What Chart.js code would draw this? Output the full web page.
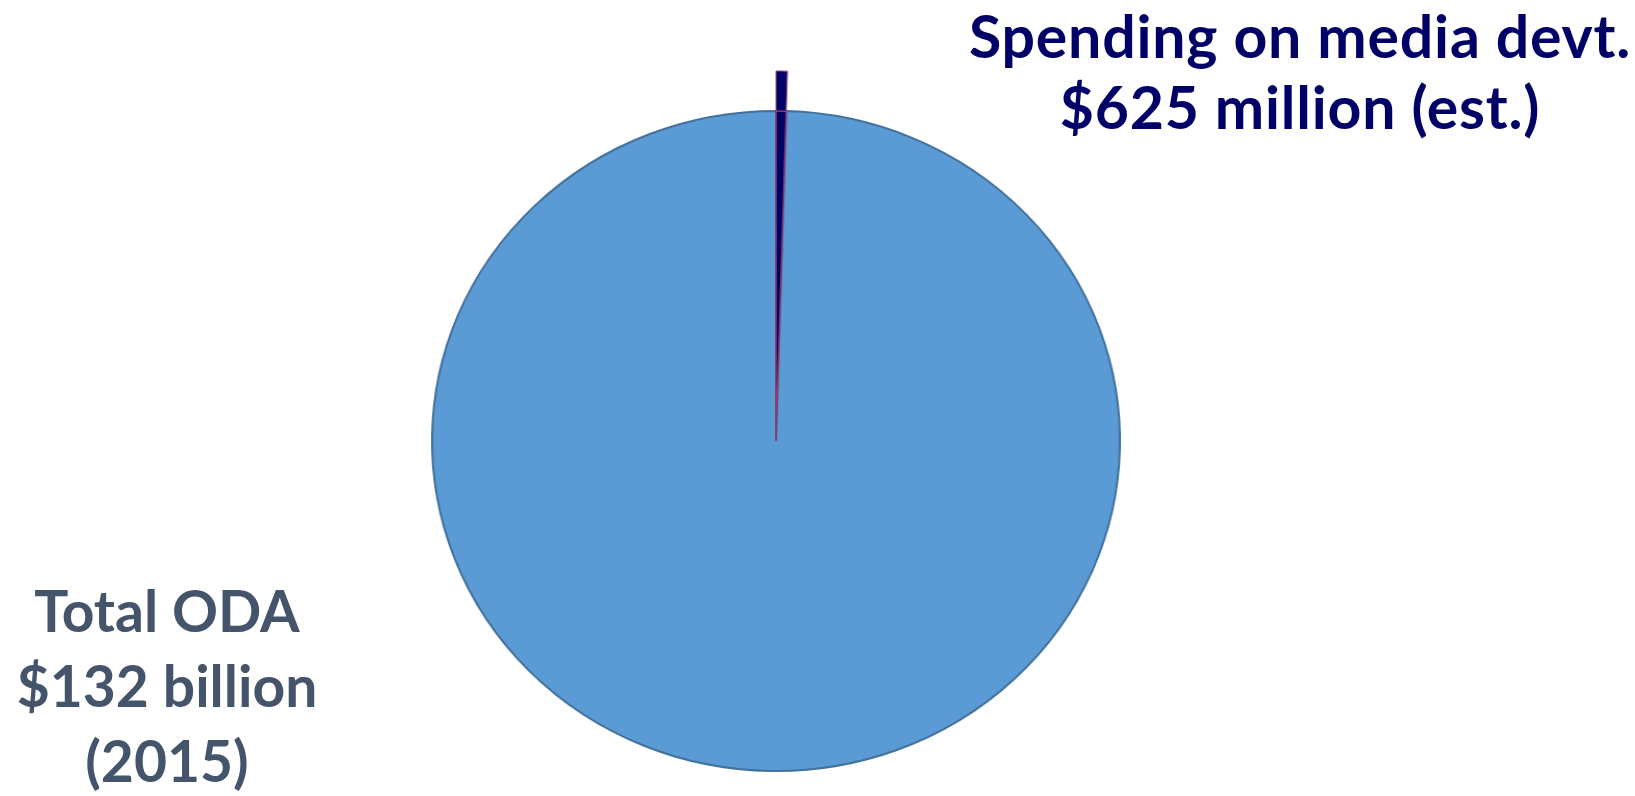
<!DOCTYPE html>
<html>
<head>
<meta charset="utf-8">
<script src="https://cdn.jsdelivr.net/npm/chart.js@4/dist/chart.umd.min.js"></script>
<style>
  html, body { margin: 0; padding: 0; background: #fff; overflow: hidden; }
  body { width: 1635px; height: 796px; position: relative; font-family: Lato, "Open Sans", sans-serif; font-weight: 700; }
  #pie-wrap { position: absolute; left: 396px; top: 61px; width: 760px; height: 760px; transform: scaleX(1.042); transform-origin: 50% 50%; }
  .label { position: absolute; text-align: center; white-space: nowrap; }
  #label-media { left: 950px; width: 700px; top: 0px; font-size: 59px; line-height: 71px; letter-spacing: 0.8px; color: #000066; }
  #label-total { left: 0px; width: 334px; top: 573px; font-size: 57px; line-height: 75px; color: #44546a; }
</style>
</head>
<body>
<div id="pie-wrap"><canvas id="pie" width="760" height="760"></canvas></div>
<div class="label" id="label-media">Spending on media devt.<br>$625 million (est.)</div>
<div class="label" id="label-total">Total ODA<br>$132 billion<br>(2015)</div>
<script>
// values in US$ million
const SLICE_LABELS = ["Rest of ODA", "Spending on media devt."];
const TOTAL_ODA = 132000;   // $132 billion (2015)
const MEDIA_SPEND = 625;    // $625 million (est.)
const SLICE_VALUES = [TOTAL_ODA - MEDIA_SPEND, MEDIA_SPEND];

// media slice is drawn last (so it sits on top of the big slice's border)
// and rotated so it starts at 12 o'clock
const mediaAngle = MEDIA_SPEND / TOTAL_ODA * 360;

new Chart(document.getElementById("pie"), {
  type: "pie",
  data: {
    labels: SLICE_LABELS,
    datasets: [
      {
        // thin outer ring: only the media slice shows, so it sticks out past the pie
        data: SLICE_VALUES,
        backgroundColor: ["rgba(0,0,0,0)", "#000066"],
        borderColor: ["rgba(0,0,0,0)", "#9e4a7e"],
        borderWidth: [0, 1],
        weight: 0.121,
      },
      {
        data: SLICE_VALUES,
        backgroundColor: ["#5b9bd5", "#000066"],
        borderColor: ["#41719c", "#8e3a6e"],
        borderWidth: [2, 1.5],
        weight: 1,
      },
    ],
  },
  options: {
    responsive: false,
    animation: false,
    radius: 370,
    rotation: mediaAngle,
    layout: { padding: 0 },
    events: [],
    plugins: { legend: { display: false }, tooltip: { enabled: false } },
  },
});
</script>
</body>
</html>
